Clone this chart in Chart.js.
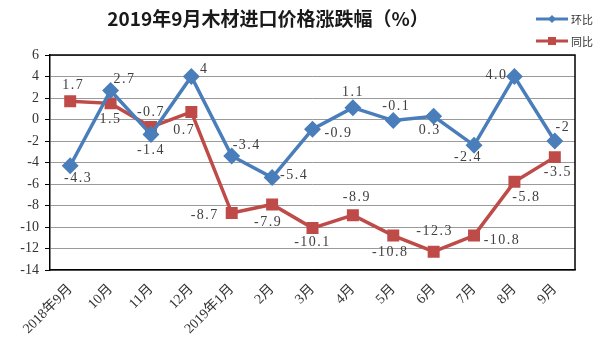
<!DOCTYPE html>
<html><head><meta charset="utf-8">
<script src="https://cdn.jsdelivr.net/npm/chart.js@4/dist/chart.umd.min.js"></script>
<style>html,body{margin:0;padding:0;background:#fff}#wrap{width:600px;height:347px}</style>
</head><body><div id="wrap"><canvas id="c" width="600" height="347"></canvas></div>
<script>
const categories = ['2018年9月','10月','11月','12月','2019年1月','2月','3月','4月','5月','6月','7月','8月','9月'];
const momValues = [-4.3, 2.7, -1.4, 4, -3.4, -5.4, -0.9, 1.1, -0.1, 0.3, -2.4, 4.0, -2];
const yoyValues = [1.7, 1.5, -0.7, 0.7, -8.7, -7.9, -10.1, -8.9, -10.8, -12.3, -10.8, -5.8, -3.5];
const momLabels = ['-4.3','2.7','-1.4','4','-3.4','-5.4','-0.9','1.1','-0.1','0.3','-2.4','4.0','-2'];
const yoyLabels = ['1.7','1.5','-0.7','0.7','-8.7','-7.9','-10.1','-8.9','-10.8','-12.3','-10.8','-5.8','-3.5'];
const seriesNames = ['环比','同比'];
const titleText = '2019年9月木材进口价格涨跌幅（%）';

// label offsets (layout only)
const momOffsets = [[8,13],[14,-11],[0,16],[13,-7],[15,-11],[22,-2],[26,4],[0,-15],[3,-14],[-4,14],[-6,12],[-18,-1],[8,-14]];
const yoyOffsets = [[3,-16],[0,16],[0,-15],[-7,18],[-27,2],[-4,18],[0,14],[4,-18],[-3,17],[1,-20],[28,5],[12,15],[3,15]];

const BLUE = '#4A7EBB', RED = '#BE4B48';
const serif = '"Liberation Serif","Noto Sans CJK SC",serif';

const decor = {
  id: 'decor',
  afterDatasetsDraw(chart) {
    const ctx = chart.ctx;
    ctx.save();
    ctx.font = '14px ' + serif;
    ctx.letterSpacing = '1.5px';
    ctx.fillStyle = '#404040';
    ctx.textAlign = 'center';
    ctx.textBaseline = 'middle';
    [[0, momLabels, momOffsets], [1, yoyLabels, yoyOffsets]].forEach(([di, labs, offs]) => {
      const meta = chart.getDatasetMeta(di);
      meta.data.forEach((pt, i) => {
        ctx.fillText(labs[i], pt.x + offs[i][0], pt.y + offs[i][1]);
      });
    });
    ctx.restore();
  },
  afterDraw(chart) {
    const ctx = chart.ctx;
    ctx.save();
    ctx.font = 'bold 19px "Noto Sans CJK SC",sans-serif';
    ctx.fillStyle = '#1a1a1a';
    ctx.textAlign = 'center';
    ctx.textBaseline = 'middle';
    ctx.fillText(titleText, 268, 19);
    // legend
    const items = [[BLUE, 'diamond', 19, seriesNames[0]], [RED, 'square', 41, seriesNames[1]]];
    items.forEach(([col, shape, y, name]) => {
      ctx.strokeStyle = col; ctx.lineWidth = 3;
      ctx.beginPath(); ctx.moveTo(536, y); ctx.lineTo(568, y); ctx.stroke();
      ctx.fillStyle = col;
      if (shape === 'diamond') {
        ctx.beginPath(); ctx.moveTo(552, y-4); ctx.lineTo(556, y); ctx.lineTo(552, y+4); ctx.lineTo(548, y); ctx.closePath(); ctx.fill();
      } else {
        ctx.fillRect(548, y-4, 8, 8);
      }
      ctx.fillStyle = '#333';
      ctx.font = '11px "Noto Sans CJK SC",sans-serif';
      ctx.textAlign = 'left';
      ctx.fillText(name, 571, y + 1);
    });
    ctx.restore();
  }
};

new Chart(document.getElementById('c'), {
  type: 'line',
  data: {
    labels: categories,
    datasets: [
      { label: seriesNames[0], data: momValues, borderColor: BLUE, backgroundColor: BLUE, borderWidth: 3.5,
        pointStyle: 'rectRot', pointRadius: 6, pointHoverRadius: 6, tension: 0 },
      { label: seriesNames[1], data: yoyValues, borderColor: RED, backgroundColor: RED, borderWidth: 3.5,
        pointStyle: 'rect', pointRadius: 6, pointHoverRadius: 6, tension: 0 }
    ]
  },
  options: {
    responsive: false,
    animation: false,
    devicePixelRatio: 1,
    layout: { padding: { left: 0, right: 25, top: 55, bottom: 0 } },
    plugins: { legend: { display: false }, title: { display: false }, tooltip: { enabled: false } },
    scales: {
      x: {
        offset: true,
        grid: { display: false, drawTicks: false },
        border: { display: true, color: '#000', width: 1.5 },
        ticks: { minRotation: 45, maxRotation: 45, color: '#333', font: { family: serif, size: 14 }, padding: 11 },
        afterFit(s) { s.height = 77; }
      },
      y: {
        min: -14, max: 6,
        ticks: { stepSize: 2, color: '#333', font: { family: serif, size: 14 }, padding: 6 },
        grid: { color: '#9a9a9a', lineWidth: 1, tickLength: 5, tickColor: '#000' },
        border: { display: true, color: '#000', width: 1.5 },
        afterFit(s) { s.width = 50; }
      }
    }
  },
  plugins: [decor, {
    id: 'frame',
    afterDatasetsDraw(chart) {
      const a = chart.chartArea, ctx = chart.ctx;
      ctx.save(); ctx.strokeStyle = '#000'; ctx.lineWidth = 1.5;
      ctx.beginPath(); ctx.moveTo(a.left, a.top); ctx.lineTo(a.right, a.top); ctx.lineTo(a.right, a.bottom); ctx.stroke();
      ctx.restore();
    }
  }]
});
</script></body></html>
